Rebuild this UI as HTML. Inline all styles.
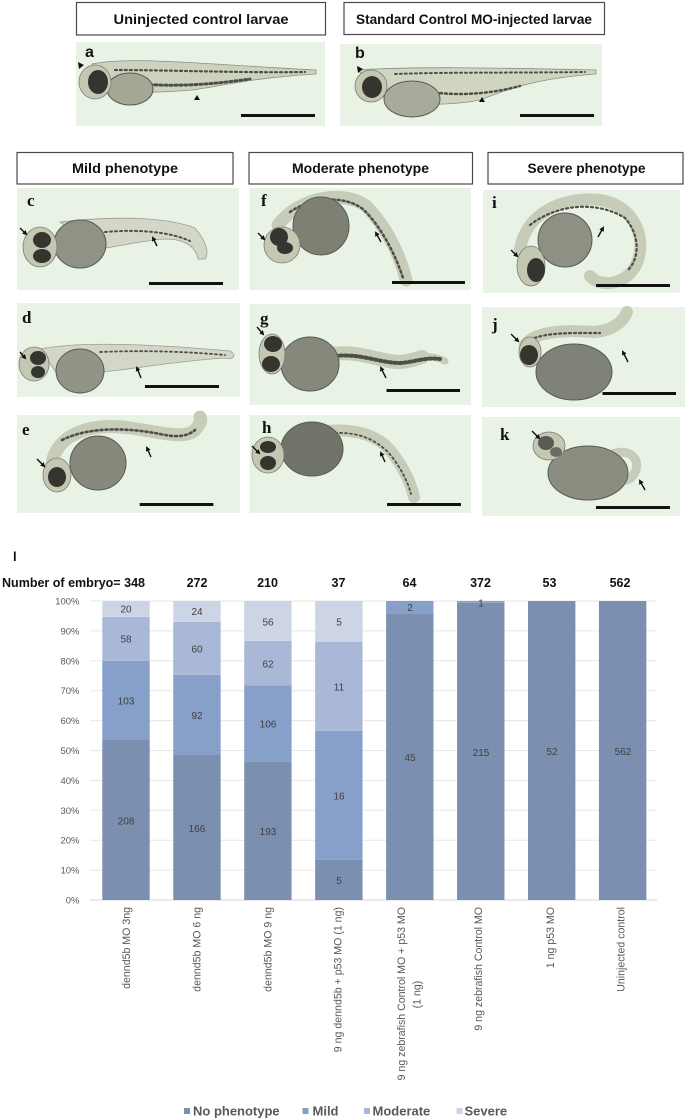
<!DOCTYPE html>
<html>
<head>
<meta charset="utf-8">
<style>
html,body{margin:0;padding:0;background:#ffffff;}
svg{display:block;}
.bx{fill:#fff;stroke:#4a4a4a;stroke-width:1.2;}
.bt{font-family:"Liberation Sans",sans-serif;font-weight:bold;font-size:14px;fill:#111;}
.pl{font-family:"Liberation Serif",serif;font-weight:bold;font-size:17px;fill:#111;}
.ps{font-family:"Liberation Sans",sans-serif;font-weight:bold;font-size:16px;fill:#111;}
.bg{fill:#e8f2e5;}
.body{fill:none;stroke:#c7ccb9;stroke-linecap:round;}
.pig{fill:none;stroke:#4d4f47;stroke-dasharray:2 3;stroke-linecap:round;}
.yolk{stroke:#585b52;stroke-width:1;}
.head{fill:#c4c8b2;stroke:#7a7d70;stroke-width:0.8;}
.eye{fill:#34352f;}
.arr{stroke:#111;stroke-width:1.4;fill:none;marker-end:url(#ah);}
.tk{font-family:"Liberation Sans",sans-serif;font-size:9.5px;fill:#595959;}
.dl{font-family:"Liberation Sans",sans-serif;font-size:10px;fill:#404040;text-anchor:middle;}
.xl{font-family:"Liberation Sans",sans-serif;font-size:10.6px;fill:#595959;}
.hd{font-family:"Liberation Sans",sans-serif;font-weight:bold;font-size:12.5px;fill:#111;}
.lg{font-family:"Liberation Sans",sans-serif;font-weight:bold;font-size:13px;fill:#595959;}
.gl{stroke:#e7e7e7;stroke-width:1;}
</style>
</head>
<body>
<svg width="685" height="1120" viewBox="0 0 685 1120" xmlns="http://www.w3.org/2000/svg">
<defs>
<marker id="ah" markerWidth="5" markerHeight="5" refX="3" refY="2.5" orient="auto" markerUnits="userSpaceOnUse">
<path d="M0,0 L5,2.5 L0,5 Z" fill="#111"/>
</marker>
</defs>

<!-- Row 1 title boxes -->
<rect class="bx" x="76.5" y="2.5" width="249" height="32.5"/>
<text class="bt" x="201" y="24" text-anchor="middle" textLength="175" lengthAdjust="spacingAndGlyphs">Uninjected control larvae</text>
<rect class="bx" x="344" y="2.5" width="260.5" height="32"/>
<text class="bt" x="474" y="24" text-anchor="middle" textLength="236" lengthAdjust="spacingAndGlyphs">Standard Control MO-injected larvae</text>

<!-- Panel a -->
<rect class="bg" x="76" y="42" width="249" height="84"/>
<path d="M92 64 C130 56,200 64,316 70 L316 74 C250 78,222 86,192 90 C160 93,130 92,110 94 Z" fill="#cdd2bf" stroke="#8a8f80" stroke-width="0.8"/>
<path class="pig" d="M115 70 C170 70,240 73,305 72" stroke-width="2.2"/>
<path class="pig" d="M140 84 C180 87,215 84,250 79" stroke-width="3"/>
<ellipse class="yolk" cx="130" cy="89" rx="23" ry="16" fill="#a4a796"/>
<ellipse class="head" cx="95" cy="82" rx="16" ry="17"/>
<ellipse class="eye" cx="98" cy="82" rx="10" ry="12"/>
<path d="M78 62 L84 65 L79 69 Z" fill="#111"/>
<path d="M197 95 L200 100 L194 100 Z" fill="#111"/>
<text class="ps" x="85" y="57">a</text>
<rect x="241" y="114" width="74" height="3" fill="#111"/>

<!-- Panel b -->
<rect class="bg" x="340" y="44" width="262" height="82"/>
<path d="M358 70 C420 66,500 68,596 70 L596 74 C540 78,510 88,480 100 C450 106,420 104,390 104 Z" fill="#d0d5c2" stroke="#8a8f80" stroke-width="0.8"/>
<path class="pig" d="M395 74 C450 72,520 73,585 72" stroke-width="2"/>
<path class="pig" d="M430 92 C460 96,490 94,520 86" stroke-width="2.5"/>
<ellipse class="yolk" cx="412" cy="99" rx="28" ry="18" fill="#a8ab9b"/>
<ellipse class="head" cx="371" cy="86" rx="16" ry="16"/>
<ellipse class="eye" cx="372" cy="87" rx="10" ry="11"/>
<path d="M357 66 L363 69 L358 73 Z" fill="#111"/>
<path d="M482 97 L485 102 L479 102 Z" fill="#111"/>
<text class="ps" x="355" y="58">b</text>
<rect x="520" y="114" width="74" height="3" fill="#111"/>

<!-- Row 2 title boxes -->
<rect class="bx" x="17" y="152.5" width="216" height="31.5"/>
<text class="bt" x="125" y="173" text-anchor="middle" textLength="106" lengthAdjust="spacingAndGlyphs">Mild phenotype</text>
<rect class="bx" x="249" y="152.5" width="223.5" height="31.5"/>
<text class="bt" x="360.5" y="173" text-anchor="middle" textLength="137" lengthAdjust="spacingAndGlyphs">Moderate  phenotype</text>
<rect class="bx" x="488" y="152.5" width="195" height="31.5"/>
<text class="bt" x="586.5" y="173" text-anchor="middle" textLength="118" lengthAdjust="spacingAndGlyphs">Severe phenotype</text>

<!-- Panel c -->
<rect class="bg" x="17" y="188" width="222" height="102"/>
<path d="M60 222 C120 215,170 218,195 228 C205 240,210 252,205 259 L198 259 C196 247,185 239,165 239 C140 241,120 246,100 249 Z" fill="#d3d7c7" stroke="#9a9e90" stroke-width="0.8"/>
<path class="pig" d="M105 232 C140 229,170 232,190 241" stroke-width="2"/>
<ellipse class="yolk" cx="80" cy="244" rx="26" ry="24" fill="#909285"/>
<ellipse class="head" cx="40" cy="247" rx="17" ry="20"/>
<ellipse class="eye" cx="42" cy="240" rx="9" ry="8"/>
<ellipse class="eye" cx="42" cy="256" rx="9" ry="7"/>
<path class="arr" d="M20 228 L26 234"/>
<path class="arr" d="M157 246 L153 238"/>
<text class="pl" x="27" y="206">c</text>
<rect x="149" y="282" width="74" height="3" fill="#111"/>

<!-- Panel f -->
<rect class="bg" x="249.5" y="188" width="221.5" height="102"/>
<path class="body" d="M278 225 C300 196,345 190,366 206 C386 226,400 255,406 280" stroke-width="13"/>
<path class="pig" d="M290 212 C310 198,345 194,364 210 C382 228,396 256,403 278" stroke-width="2.5"/>
<ellipse class="yolk" cx="321" cy="226" rx="28" ry="29" fill="#7d8073"/>
<ellipse class="head" cx="282" cy="245" rx="18" ry="18" fill="#ccceb1"/>
<ellipse class="eye" cx="279" cy="237" rx="9" ry="9"/>
<ellipse class="eye" cx="285" cy="248" rx="8" ry="6"/>
<path class="arr" d="M258 233 L264 239"/>
<path class="arr" d="M381 242 L376 233"/>
<text class="pl" x="261" y="206">f</text>
<rect x="392" y="281" width="73" height="3" fill="#111"/>

<!-- Panel i -->
<rect class="bg" x="483" y="190" width="197" height="103"/>
<path class="body" d="M520 250 C525 215,560 196,600 200 C635 205,648 240,636 265 C626 285,600 288,590 276" stroke-width="12"/>
<path class="pig" d="M530 225 C560 202,600 202,625 218 C640 235,640 258,628 270" stroke-width="2.2"/>
<ellipse class="yolk" cx="565" cy="240" rx="27" ry="27" fill="#8e9084"/>
<ellipse class="head" cx="531" cy="266" rx="14" ry="20" fill="#cacba9"/>
<ellipse class="eye" cx="536" cy="270" rx="9" ry="12"/>
<path class="arr" d="M511 250 L517 256"/>
<path class="arr" d="M598 237 L603 228"/>
<text class="pl" x="492" y="208">i</text>
<rect x="596" y="284" width="74" height="3" fill="#111"/>

<!-- Panel d -->
<rect class="bg" x="17" y="303" width="223" height="94"/>
<path d="M40 349 C80 341,150 344,230 351 C237 355,234 360,225 358 C190 360,150 366,120 370 C100 372,80 375,60 378 Z" fill="#d3d7c7" stroke="#9a9e90" stroke-width="0.8"/>
<path class="pig" d="M100 352 C150 350,190 352,225 355" stroke-width="1.8"/>
<ellipse class="yolk" cx="80" cy="371" rx="24" ry="22" fill="#929487"/>
<ellipse class="head" cx="34" cy="364" rx="15" ry="17"/>
<ellipse class="eye" cx="38" cy="358" rx="8" ry="7"/>
<ellipse class="eye" cx="38" cy="372" rx="7" ry="6"/>
<path class="arr" d="M20 352 L25 358"/>
<path class="arr" d="M141 378 L137 368"/>
<text class="pl" x="22" y="323">d</text>
<rect x="145" y="385" width="74" height="3" fill="#111"/>

<!-- Panel g -->
<rect class="bg" x="249.5" y="304" width="221.5" height="101"/>
<path class="body" d="M330 354 C360 350,380 362,400 362 C412 361,418 358,422 357" stroke-width="14"/>
<path class="body" d="M420 357 C430 355,438 358,445 361" stroke-width="7"/>
<path class="pig" d="M335 356 C360 353,380 363,400 363 C415 362,425 357,440 359" stroke-width="4"/>
<ellipse class="yolk" cx="310" cy="364" rx="29" ry="27" fill="#85887b"/>
<ellipse class="head" cx="272" cy="354" rx="13" ry="20"/>
<ellipse class="eye" cx="273" cy="344" rx="9" ry="8"/>
<ellipse class="eye" cx="271" cy="364" rx="9" ry="8"/>
<path class="arr" d="M257 327 L263 334"/>
<path class="arr" d="M386 378 L381 368"/>
<text class="pl" x="260" y="324">g</text>
<rect x="386.5" y="389" width="73.5" height="3" fill="#111"/>

<!-- Panel j -->
<rect class="bg" x="482" y="307" width="203" height="100"/>
<path class="body" d="M525 345 C535 330,570 330,595 332 C615 330,624 320,627 312" stroke-width="12"/>
<path class="pig" d="M530 340 C545 332,575 333,600 333" stroke-width="2.2"/>
<ellipse class="yolk" cx="574" cy="372" rx="38" ry="28" fill="#7f8276"/>
<ellipse class="head" cx="530" cy="352" rx="11" ry="15"/>
<ellipse class="eye" cx="529" cy="355" rx="9" ry="10"/>
<path class="arr" d="M511 334 L518 341"/>
<path class="arr" d="M628 362 L623 352"/>
<text class="pl" x="492" y="330">j</text>
<rect x="602.5" y="392" width="73.5" height="3" fill="#111"/>

<!-- Panel e -->
<rect class="bg" x="17" y="415" width="223" height="98"/>
<path class="body" d="M52 465 C55 435,90 422,130 428 C160 432,185 440,195 430 C200 424,202 420,200 417" stroke-width="13"/>
<path class="pig" d="M62 440 C90 426,130 428,160 434 C178 438,188 436,195 430" stroke-width="2.6"/>
<ellipse class="yolk" cx="98" cy="463" rx="28" ry="27" fill="#86897c"/>
<ellipse class="head" cx="57" cy="475" rx="14" ry="17"/>
<ellipse class="eye" cx="57" cy="477" rx="9" ry="10"/>
<path class="arr" d="M37 459 L44 466"/>
<path class="arr" d="M151 457 L147 448"/>
<text class="pl" x="22" y="435">e</text>
<rect x="139.7" y="503" width="73.7" height="3" fill="#111"/>

<!-- Panel h -->
<rect class="bg" x="249.5" y="415" width="221.5" height="98"/>
<path class="body" d="M320 432 C345 428,370 432,385 445 C400 460,410 480,414 497" stroke-width="12"/>
<path class="pig" d="M335 433 C360 432,375 440,388 452 C400 466,408 482,411 494" stroke-width="1.8"/>
<ellipse class="yolk" cx="312" cy="449" rx="31" ry="27" fill="#707367"/>
<ellipse class="head" cx="268" cy="455" rx="16" ry="18"/>
<ellipse class="eye" cx="268" cy="447" rx="8" ry="6"/>
<ellipse class="eye" cx="268" cy="463" rx="8" ry="7"/>
<path class="arr" d="M252 446 L259 453"/>
<path class="arr" d="M385 462 L381 453"/>
<text class="pl" x="262" y="433">h</text>
<rect x="387" y="503" width="74" height="3" fill="#111"/>

<!-- Panel k -->
<rect class="bg" x="482" y="417" width="198" height="99"/>
<path class="body" d="M610 455 C625 448,640 455,636 470 C632 480,625 482,622 478" stroke-width="9"/>
<ellipse class="yolk" cx="588" cy="473" rx="40" ry="27" fill="#8a8d80"/>
<ellipse class="head" cx="549" cy="446" rx="16" ry="14"/>
<ellipse cx="546" cy="443" rx="8" ry="7" fill="#5a5b52"/>
<ellipse cx="556" cy="452" rx="6" ry="5" fill="#6a6b62"/>
<path class="arr" d="M532 431 L539 438"/>
<path class="arr" d="M645 490 L640 481"/>
<text class="pl" x="500" y="440">k</text>
<rect x="596" y="506" width="74" height="3" fill="#111"/>

<!-- ===== Chart ===== -->
<text x="13" y="561" style="font-family:'Liberation Sans',sans-serif;font-weight:bold;font-size:13px;fill:#111">l</text>

<text class="hd" x="2" y="587" textLength="143" lengthAdjust="spacingAndGlyphs">Number of embryo= 348</text>
<text class="hd" x="197" y="587" text-anchor="middle">272</text>
<text class="hd" x="267.5" y="587" text-anchor="middle">210</text>
<text class="hd" x="338.5" y="587" text-anchor="middle">37</text>
<text class="hd" x="409.5" y="587" text-anchor="middle">64</text>
<text class="hd" x="480.5" y="587" text-anchor="middle">372</text>
<text class="hd" x="549.5" y="587" text-anchor="middle">53</text>
<text class="hd" x="620" y="587" text-anchor="middle">562</text>

<!-- gridlines -->
<line class="gl" x1="90" y1="601" x2="657" y2="601"/>
<line class="gl" x1="90" y1="630.9" x2="657" y2="630.9"/>
<line class="gl" x1="90" y1="660.8" x2="657" y2="660.8"/>
<line class="gl" x1="90" y1="690.7" x2="657" y2="690.7"/>
<line class="gl" x1="90" y1="720.6" x2="657" y2="720.6"/>
<line class="gl" x1="90" y1="750.5" x2="657" y2="750.5"/>
<line class="gl" x1="90" y1="780.4" x2="657" y2="780.4"/>
<line class="gl" x1="90" y1="810.3" x2="657" y2="810.3"/>
<line class="gl" x1="90" y1="840.2" x2="657" y2="840.2"/>
<line class="gl" x1="90" y1="870.1" x2="657" y2="870.1"/>
<line x1="90" y1="900" x2="657" y2="900" stroke="#d6d6d6" stroke-width="1"/>

<!-- tick labels -->
<text class="tk" x="79.5" y="604.5" text-anchor="end">100%</text>
<text class="tk" x="79.5" y="634.4" text-anchor="end">90%</text>
<text class="tk" x="79.5" y="664.3" text-anchor="end">80%</text>
<text class="tk" x="79.5" y="694.2" text-anchor="end">70%</text>
<text class="tk" x="79.5" y="724.1" text-anchor="end">60%</text>
<text class="tk" x="79.5" y="754" text-anchor="end">50%</text>
<text class="tk" x="79.5" y="783.9" text-anchor="end">40%</text>
<text class="tk" x="79.5" y="813.8" text-anchor="end">30%</text>
<text class="tk" x="79.5" y="843.7" text-anchor="end">20%</text>
<text class="tk" x="79.5" y="873.6" text-anchor="end">10%</text>
<text class="tk" x="79.5" y="903.5" text-anchor="end">0%</text>

<!-- bars -->
<g>
<!-- bar 1 -->
<rect x="102.3" y="740" width="47.4" height="160" fill="#7b90b0"/>
<rect x="102.3" y="660.8" width="47.4" height="79.2" fill="#87a0c9"/>
<rect x="102.3" y="616.8" width="47.4" height="44" fill="#a9b8d6"/>
<rect x="102.3" y="601" width="47.4" height="15.8" fill="#cdd4e6"/>
<!-- bar 2 -->
<rect x="173.25" y="755" width="47.4" height="145" fill="#7b90b0"/>
<rect x="173.25" y="674.9" width="47.4" height="80.1" fill="#87a0c9"/>
<rect x="173.25" y="621.9" width="47.4" height="53" fill="#a9b8d6"/>
<rect x="173.25" y="601" width="47.4" height="20.9" fill="#cdd4e6"/>
<!-- bar 3 -->
<rect x="244.2" y="761.9" width="47.4" height="138.1" fill="#7b90b0"/>
<rect x="244.2" y="685.3" width="47.4" height="76.6" fill="#87a0c9"/>
<rect x="244.2" y="640.8" width="47.4" height="44.5" fill="#a9b8d6"/>
<rect x="244.2" y="601" width="47.4" height="39.8" fill="#cdd4e6"/>
<!-- bar 4 -->
<rect x="315.15" y="859.9" width="47.4" height="40.1" fill="#7b90b0"/>
<rect x="315.15" y="730.8" width="47.4" height="129.1" fill="#87a0c9"/>
<rect x="315.15" y="641.7" width="47.4" height="89.1" fill="#a9b8d6"/>
<rect x="315.15" y="601" width="47.4" height="40.7" fill="#cdd4e6"/>
<!-- bar 5 -->
<rect x="386.1" y="613.6" width="47.4" height="286.4" fill="#7b90b0"/>
<rect x="386.1" y="601" width="47.4" height="12.6" fill="#87a0c9"/>
<!-- bar 6 -->
<rect x="457.05" y="602.8" width="47.4" height="297.2" fill="#7b90b0"/>
<rect x="457.05" y="601" width="47.4" height="1.8" fill="#87a0c9"/>
<!-- bar 7 -->
<rect x="528" y="601" width="47.4" height="299" fill="#7b90b0"/>
<!-- bar 8 -->
<rect x="598.95" y="601" width="47.4" height="299" fill="#7b90b0"/>
</g>

<!-- data labels -->
<text class="dl" x="126" y="612.5">20</text>
<text class="dl" x="126" y="642.5">58</text>
<text class="dl" x="126" y="704.5">103</text>
<text class="dl" x="126" y="824.5">208</text>

<text class="dl" x="197" y="615">24</text>
<text class="dl" x="197" y="652.5">60</text>
<text class="dl" x="197" y="719">92</text>
<text class="dl" x="197" y="832">166</text>

<text class="dl" x="268" y="625.5">56</text>
<text class="dl" x="268" y="667.5">62</text>
<text class="dl" x="268" y="727.5">106</text>
<text class="dl" x="268" y="835">193</text>

<text class="dl" x="339" y="625.5">5</text>
<text class="dl" x="339" y="690.5">11</text>
<text class="dl" x="339" y="799.5">16</text>
<text class="dl" x="339" y="884">5</text>

<text class="dl" x="410" y="611">2</text>
<text class="dl" x="410" y="761">45</text>

<text class="dl" x="481" y="606.5">1</text>
<text class="dl" x="481" y="756">215</text>

<text class="dl" x="552" y="755">52</text>
<text class="dl" x="623" y="755">562</text>

<!-- x-axis labels (rotated) -->
<text class="xl" transform="translate(130,907) rotate(-90)" text-anchor="end">dennd5b MO 3ng</text>
<text class="xl" transform="translate(200.5,907) rotate(-90)" text-anchor="end">dennd5b MO 6 ng</text>
<text class="xl" transform="translate(271.5,907) rotate(-90)" text-anchor="end">dennd5b MO 9 ng</text>
<text class="xl" transform="translate(341.5,907) rotate(-90)" text-anchor="end">9 ng dennd5b + p53 MO (1 ng)</text>
<text class="xl" transform="translate(405,907) rotate(-90)" text-anchor="end">9 ng zebrafish Control  MO + p53 MO</text>
<text class="xl" transform="translate(420.5,994.5) rotate(-90)" text-anchor="middle">(1 ng)</text>
<text class="xl" transform="translate(482,907) rotate(-90)" text-anchor="end">9 ng zebrafish Control MO</text>
<text class="xl" transform="translate(554,907) rotate(-90)" text-anchor="end">1 ng p53 MO</text>
<text class="xl" transform="translate(624.5,907) rotate(-90)" text-anchor="end">Uninjected control</text>

<!-- legend -->
<rect x="184" y="1108" width="6" height="6" fill="#7b90b0"/>
<text class="lg" x="193" y="1115.5">No phenotype</text>
<rect x="302.5" y="1108" width="6" height="6" fill="#87a0c9"/>
<text class="lg" x="312.5" y="1115.5">Mild</text>
<rect x="364" y="1108" width="6" height="6" fill="#a9b8d6"/>
<text class="lg" x="372.5" y="1115.5">Moderate</text>
<rect x="456.5" y="1108" width="6" height="6" fill="#cdd4e6"/>
<text class="lg" x="464.5" y="1115.5">Severe</text>
</svg>
</body>
</html>
